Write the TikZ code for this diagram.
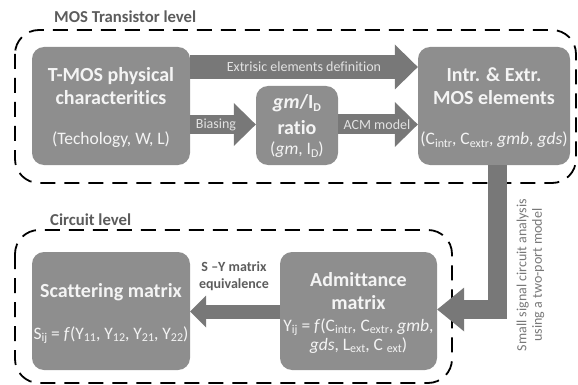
\documentclass[tikz,border=0pt]{standalone}
\usepackage{fontspec}
\setmainfont[Ligatures={NoCommon}]{Carlito}
\usetikzlibrary{arrows.meta}
\definecolor{boxc}{HTML}{8E8E8E}
\definecolor{arrc}{HTML}{787878}
\definecolor{lblc}{HTML}{5C5C5C}
\definecolor{txtc}{HTML}{F4F4F4}
\definecolor{albl}{HTML}{E2E2E2}
\newcommand\lsub[1]{\raisebox{-0.3ex}{\fontsize{12}{12}\selectfont #1}}
\newcommand\ttlf{\fontsize{20}{23}\selectfont\bfseries}
\newcommand\subf{\fontsize{17.5}{19}\selectfont}
\tikzset{
  box/.style={fill=boxc, rounded corners=12pt, inner sep=0pt},
  cont/.style={draw=black, line width=1.8pt, dash pattern=on 15pt off 9pt, rounded corners=24pt},
  intext/.style={text=txtc, inner sep=0pt, align=center},
  alabel/.style={text=albl, inner sep=0pt, font=\fontsize{14}{16}\selectfont},
  clabel/.style={text=lblc, inner sep=0pt, font=\fontsize{16.7}{19}\selectfont\bfseries, anchor=west},
}
\begin{document}
\begin{tikzpicture}[x=1pt,y=-1pt]
\useasboundingbox (0,0) rectangle (578,385);
% containers
\draw[cont] (15,30) rectangle (576,183);
\draw[cont] (15,230) rectangle (452,383);
\node[clabel] (lmos) at (54,17) {MOS Transistor level};
\node[clabel] (lcir) at (50,219.5) {Circuit level};
% boxes
\node[box, minimum width=158pt, minimum height=118pt] (tmos) at (111,106) {};
\node[box, minimum width=82pt, minimum height=79pt] (gmid) at (297,125.5) {};
\node[box, minimum width=152pt, minimum height=118pt] (intr) at (494,106) {};
\node[box, minimum width=158pt, minimum height=118pt] (scat) at (111,311) {};
\node[box, minimum width=157pt, minimum height=118pt] (adm) at (358.5,311) {};
% box texts
\node[intext, font=\ttlf] (t1) at (111,86.5) {T-MOS physical\\characteritics};
\node[intext, font=\subf] (t2) at (111,140) {(Techology, W, L)};
\node[intext, font=\ttlf] (g1) at (297,103) {\textit{gm}/I\lsub{D}};
\node[intext, font=\ttlf] (g2) at (297,128) {ratio};
\node[intext, font=\subf] (g3) at (297,150) {(\textit{gm}, I\lsub{D})};
\node[intext, font=\ttlf] (i1) at (494,86.5) {Intr. \& Extr.\\MOS elements};
\node[intext, font=\subf] (i2) at (494,140) {(C\lsub{intr}, C\lsub{extr}, \textit{gmb}, \textit{gds})};
\node[intext, font=\ttlf] (s1) at (111,292) {Scattering matrix};
\node[intext, font=\subf] (s2) at (111,335) {S\lsub{ij} = \textit{f}(Y\lsub{11}, Y\lsub{12}, Y\lsub{21}, Y\lsub{22})};
\node[intext, font=\ttlf] (a1) at (358.5,291.5) {Admittance\\matrix};
\node[intext, font=\subf] (a2) at (358.5,336) {Y\lsub{ij} = \textit{f}(C\lsub{intr}, C\lsub{extr}, \textit{gmb},\\\textit{gds}, L\lsub{ext}, C \lsub{ext})};
% helper coordinates
\coordinate (y67) at (0,67);
\coordinate (y125) at (0,124.5);
\coordinate (vx) at (497.5,0);
\coordinate (hy) at (0,309.5);
\coordinate (y312) at (0,311.5);
% fat arrows
\draw[arrc, line width=24pt, -{Triangle[length=23pt,width=45pt,line width=0pt]}] (tmos.east |- y67) -- (intr.west |- y67);
\draw[arrc, line width=19pt, -{Triangle[length=22pt,width=43pt,line width=0pt]}] (tmos.east |- y125) -- (gmid.west |- y125);
\draw[arrc, line width=20pt, -{Triangle[length=23pt,width=45pt,line width=0pt]}] (gmid.east |- y125) -- (intr.west |- y125);
\draw[arrc, line width=19pt, -{Triangle[length=27pt,width=44pt,line width=0pt]}] (intr.south -| vx) |- (adm.east |- hy);
\draw[arrc, line width=14pt, -{Triangle[length=16pt,width=32pt,line width=0pt]}] (adm.west |- y312) -- (scat.east |- y312);
% arrow labels
\node[alabel] (l1) at (304,67) {Extrisic elements definition};
\node[alabel] (l2) at (216,124.5) {Biasing};
\node[alabel] (l3) at (377,124.5) {ACM model};
\node[text=lblc, inner sep=0pt, align=center, font=\fontsize{14}{17}\selectfont\bfseries] (l4) at (234,276) {S –Y matrix\\equivalence};
\node[text=arrc, inner sep=0pt, align=center, rotate=90, font=\fontsize{14}{15.5}\selectfont] (l5) at (530.5,275) {Small signal circuit analysis\\using a two-port model};
\end{tikzpicture}
\end{document}
